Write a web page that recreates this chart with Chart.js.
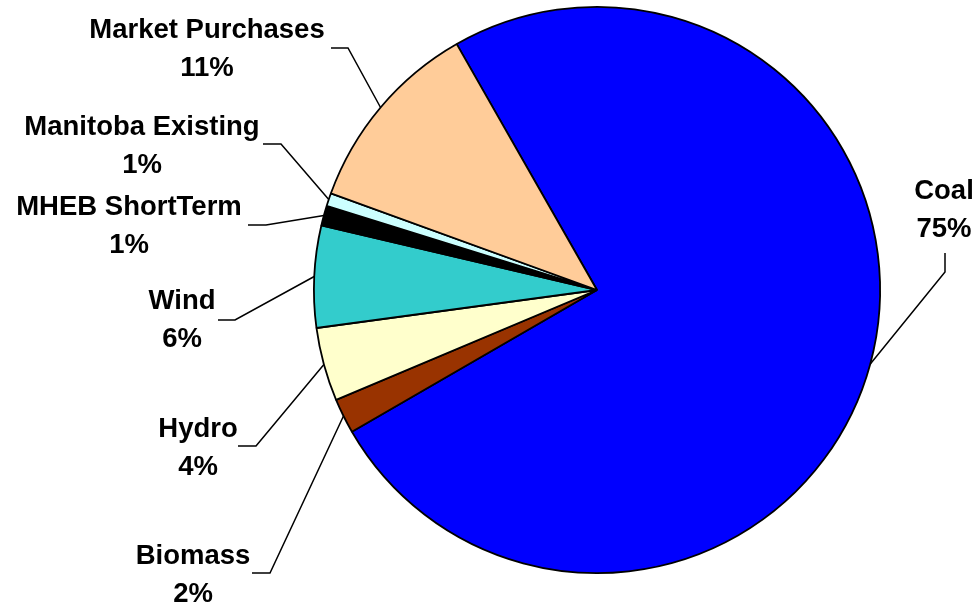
<!DOCTYPE html>
<html>
<head>
<meta charset="utf-8">
<script src="https://cdn.jsdelivr.net/npm/chart.js@4/dist/chart.umd.min.js"></script>
<style>
  html, body { margin: 0; padding: 0; background: #fff; }
  #wrap { width: 974px; height: 605px; }
</style>
</head>
<body>
<div id="wrap"><canvas id="pieChart" width="974" height="605"></canvas></div>
<script>
const sources = ['Coal', 'Biomass', 'Hydro', 'Wind', 'MHEB ShortTerm', 'Manitoba Existing', 'Market Purchases'];
const shares = [74.9, 2.0, 4.2, 5.8, 1.15, 0.74, 11.2];
const colors = ['#0000FF', '#993300', '#FFFFCC', '#33CCCC', '#000000', '#CCFFFF', '#FFCC99'];

// where each label sits: text centre, elbow of the leader, end of the leader
const labelSpots = [
  { x: 944, y: 191, elbow: [945, 272], end: [945, 253] },
  { x: 193, y: 556, elbow: [270, 573], end: [252, 573] },
  { x: 198, y: 429, elbow: [256, 446], end: [238, 446] },
  { x: 182, y: 301, elbow: [235, 320], end: [218, 320] },
  { x: 129, y: 207, elbow: [266, 225], end: [248, 225] },
  { x: 142, y: 127, elbow: [281, 144], end: [263, 144] },
  { x: 207, y: 30,  elbow: [348, 48],  end: [331, 48] }
];

const total = shares.reduce((s, v) => s + v, 0);

const leaderLabels = {
  id: 'leaderLabels',
  afterDraw(chart) {
    const ctx = chart.ctx;
    const meta = chart.getDatasetMeta(0);
    ctx.save();
    ctx.strokeStyle = '#000';
    ctx.lineWidth = 1.5;
    meta.data.forEach((arc, i) => {
      const p = arc.getProps(['x', 'y', 'startAngle', 'endAngle', 'outerRadius'], true);
      const mid = (p.startAngle + p.endAngle) / 2;
      const ax = p.x + Math.cos(mid) * p.outerRadius;
      const ay = p.y + Math.sin(mid) * p.outerRadius;
      const spot = labelSpots[i];
      ctx.beginPath();
      ctx.moveTo(ax, ay);
      ctx.lineTo(spot.elbow[0], spot.elbow[1]);
      ctx.lineTo(spot.end[0], spot.end[1]);
      ctx.stroke();

      ctx.fillStyle = '#000';
      ctx.font = 'bold 27.5px "Liberation Sans", Arial, sans-serif';
      ctx.textAlign = 'center';
      ctx.textBaseline = 'middle';
      ctx.fillText(sources[i], spot.x, spot.y);
      ctx.fillText(Math.round(shares[i] / total * 100) + '%', spot.x, spot.y + 38);
    });
    ctx.restore();
  }
};

new Chart(document.getElementById('pieChart').getContext('2d'), {
  type: 'pie',
  data: {
    labels: sources,
    datasets: [{
      data: shares,
      backgroundColor: colors,
      borderColor: '#000',
      borderWidth: 1.8
    }]
  },
  options: {
    responsive: false,
    animation: false,
    rotation: -29.7,
    layout: { padding: { left: 313, right: 93, top: 6, bottom: 31 } },
    plugins: {
      legend: { display: false },
      tooltip: { enabled: false }
    }
  },
  plugins: [leaderLabels]
});
</script>
</body>
</html>
